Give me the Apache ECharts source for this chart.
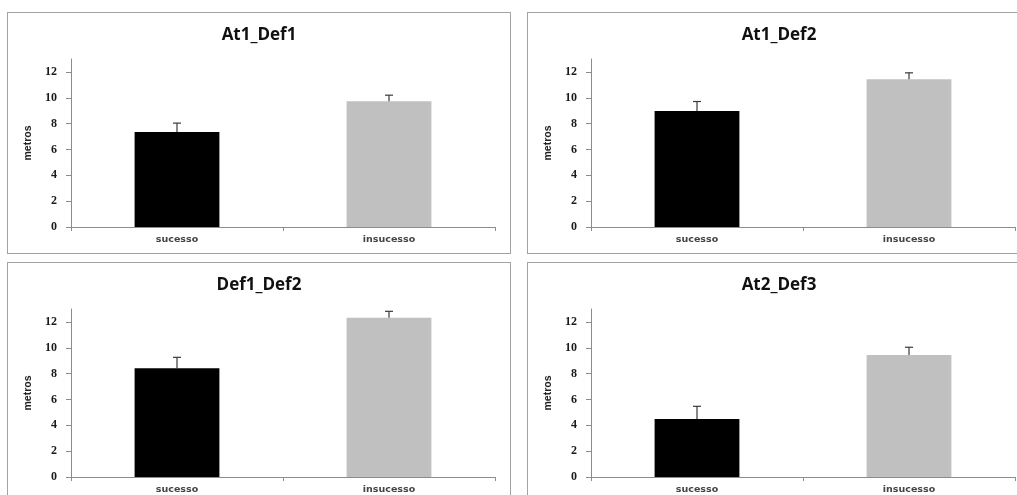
<!DOCTYPE html>
<html>
<head>
<meta charset="utf-8">
<script src="https://cdn.jsdelivr.net/npm/echarts@6/dist/echarts.min.js"></script>
<style>
  html, body { margin: 0; padding: 0; background: #fff; overflow: hidden; width: 1017px; height: 495px; }
  .panel { position: absolute; width: 504px; height: 242px; border: 1px solid #a3a3a3; box-sizing: border-box; background: #fff; }
  .chart { width: 502px; height: 240px; }
</style>
</head>
<body>
<div class="panel" style="left:7px; top:12px;"><div class="chart" id="c0"></div></div>
<div class="panel" style="left:527px; top:12px;"><div class="chart" id="c1"></div></div>
<div class="panel" style="left:7px; top:262px;"><div class="chart" id="c2"></div></div>
<div class="panel" style="left:527px; top:262px;"><div class="chart" id="c3"></div></div>
<script>
const categories = ['sucesso', 'insucesso'];
const panelTitles = ['At1_Def1', 'At1_Def2', 'Def1_Def2', 'At2_Def3'];
const successMeans = [7.35, 8.97, 8.41, 4.49];
const successErr = [0.69, 0.74, 0.85, 0.98];
const failureMeans = [9.74, 11.43, 12.33, 9.44];
const failureErr = [0.46, 0.50, 0.49, 0.60];
const yTicks = [0, 2, 4, 6, 8, 10, 12];
const yName = 'metros';
const barColors = ['#000000', '#c0c0c0'];

function buildOption(i) {
  const means = [successMeans[i], failureMeans[i]];
  const errs = [successErr[i], failureErr[i]];
  return {
    animation: false,
    title: {
      text: panelTitles[i],
      left: 'center',
      top: 9,
      textStyle: { fontFamily: "'Open Sans', sans-serif", fontWeight: 'bold', fontSize: 17, color: '#111' }
    },
    grid: { left: 63, right: 15, top: 46, bottom: 26 },
    xAxis: {
      type: 'category',
      data: categories,
      boundaryGap: true,
      axisLine: { lineStyle: { color: '#8c8c8c', width: 1 } },
      axisTick: { show: true, length: 4, lineStyle: { color: '#8c8c8c' } },
      axisLabel: { margin: 8, fontFamily: "'DejaVu Sans', sans-serif", fontWeight: 'bold', fontSize: 9.5, color: '#444' }
    },
    yAxis: {
      type: 'value',
      min: 0,
      max: 13,
      interval: 2,
      name: yName,
      nameLocation: 'middle',
      nameRotate: 90,
      nameGap: 37,
      nameTextStyle: { fontFamily: "'Liberation Sans', sans-serif", fontWeight: 'bold', fontSize: 10.5, color: '#222' },
      splitLine: { show: false },
      axisLine: { show: true, lineStyle: { color: '#8c8c8c', width: 1 } },
      axisTick: { show: true, length: 5, customValues: yTicks, lineStyle: { color: '#8c8c8c' } },
      axisLabel: { margin: 14, customValues: yTicks, fontFamily: "'Liberation Serif', serif", fontWeight: 'bold', fontSize: 12, color: '#1a1a1a' }
    },
    series: [
      {
        type: 'bar',
        barWidth: '40%',
        data: means.map((v, k) => ({ value: v, itemStyle: { color: barColors[k] } }))
      },
      {
        type: 'custom',
        data: means.map((v, k) => [k, v, errs[k]]),
        z: 5,
        renderItem: function (params, api) {
          const x = api.value(0), y = api.value(1), e = api.value(2);
          const base = api.coord([x, y]);
          const top = api.coord([x, y + e]);
          const hw = 4;
          const style = { stroke: '#3a3a3a', lineWidth: 1.2 };
          return {
            type: 'group',
            children: [
              { type: 'line', shape: { x1: base[0], y1: base[1], x2: top[0], y2: top[1] }, style: style },
              { type: 'line', shape: { x1: top[0] - hw, y1: top[1], x2: top[0] + hw, y2: top[1] }, style: style }
            ]
          };
        }
      }
    ]
  };
}

for (let i = 0; i < 4; i++) {
  const chart = echarts.init(document.getElementById('c' + i), null, { renderer: 'canvas' });
  chart.setOption(buildOption(i));
}
</script>
</body>
</html>
